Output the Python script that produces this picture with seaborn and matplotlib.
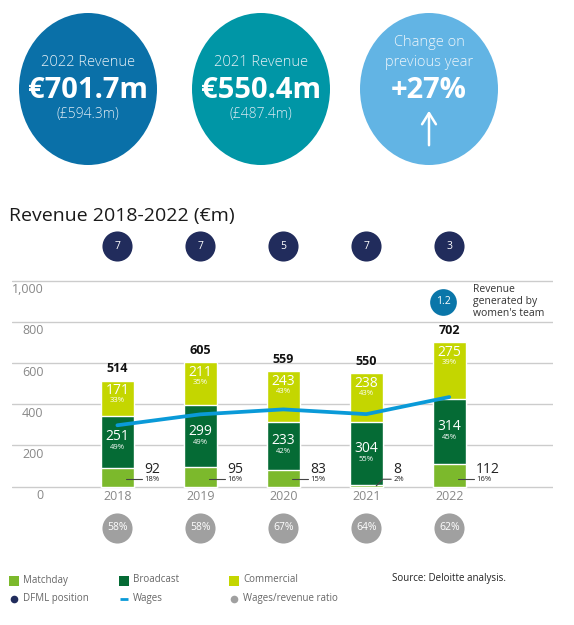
import numpy as np
import pandas as pd
import seaborn as sns
import matplotlib.pyplot as plt
from matplotlib.patches import Ellipse

sns.set_style("white")
plt.rcParams['font.family'] = ['Open Sans', 'DejaVu Sans']

# data
years = ['2018', '2019', '2020', '2021', '2022']
matchday = [92, 95, 83, 8, 112]
broadcast = [251, 299, 233, 304, 314]
commercial = [171, 211, 243, 238, 275]
matchday_pct = ['18%', '16%', '15%', '2%', '16%']
broadcast_pct = ['49%', '49%', '42%', '55%', '45%']
commercial_pct = ['33%', '35%', '43%', '43%', '39%']
totals = [514, 605, 559, 550, 702]
wages = [298, 351, 375, 352, 435]
dfml_position = [7, 7, 5, 7, 3]
wage_ratio = ['58%', '58%', '67%', '64%', '62%']
yticks = [0, 200, 400, 600, 800, 1000]
womens_revenue = 1.2

headline_titles = [['2022 Revenue'], ['2021 Revenue'], ['Change on', 'previous year']]
headline_values = ['€701.7m', '€550.4m', '+27%']
headline_subs = ['(£594.3m)', '(£487.4m)', None]

c_match = '#7cb92c'
c_broad = '#056b35'
c_comm = '#c4d600'
c_wages = '#0a9ad8'
c_navy = '#212c5c'
c_grey = '#a0a0a0'
c_women = '#0a76a9'

df = pd.DataFrame({'year': years, 'total': totals,
                   'md_bc': np.array(matchday) + np.array(broadcast),
                   'md': matchday})

fig = plt.figure(figsize=(5.74, 6.25), dpi=100)

# overlay for headline circles, title and legend (pixel coords)
bg = fig.add_axes([0, 0, 1, 1])
bg.set_xlim(0, 574)
bg.set_ylim(625, 0)
bg.axis('off')

circ_x = [88, 261, 429]
circ_col = ['#0a70a8', '#0096a6', '#62b4e4']
for i in range(3):
    bg.add_patch(Ellipse((circ_x[i], 89), 138, 152, color=circ_col[i], lw=0))
    t = headline_titles[i]
    if len(t) == 1:
        bg.text(circ_x[i], 62, t[0], ha='center', va='center', color='#e6f0f6', fontsize=10.5, fontweight='light')
    else:
        bg.text(circ_x[i], 42, t[0], ha='center', va='center', color='#eef6fb', fontsize=10.5, fontweight='light')
        bg.text(circ_x[i], 62, t[1], ha='center', va='center', color='#eef6fb', fontsize=10.5, fontweight='light')
    bg.text(circ_x[i], 90, headline_values[i], ha='center', va='center', color='white', fontsize=21, fontweight='bold')
    if headline_subs[i]:
        bg.text(circ_x[i], 115, headline_subs[i], ha='center', va='center', color='#dbe9f2', fontsize=10, fontweight='light')
bg.annotate('', xy=(429, 108), xytext=(429, 148),
            arrowprops=dict(arrowstyle='->,head_width=0.5,head_length=0.8', color='white', lw=1.8))

bg.text(9, 216, 'Revenue 2018-2022 (€m)', ha='left', va='center', fontsize=14, color='#1a1a1a')

# legend
leg = [(14, 580, 's', c_match, 'Matchday'), (124, 580, 's', c_broad, 'Broadcast'),
       (234, 580, 's', c_comm, 'Commercial'), (14, 598, 'o', c_navy, 'DFML position'),
       (124, 598, '_', c_wages, 'Wages'), (234, 598, 'o', c_grey, 'Wages/revenue ratio')]
for x, y, m, c, lab in leg:
    bg.plot([x], [y + 1], marker=m, color=c, markersize=6.5 if m == 's' else 5.5,
            mew=2 if m == '_' else 0, ls='none')
    bg.text(x + 9, y, lab, ha='left', va='center', fontsize=7, color='#666666')
bg.text(392, 579, 'Source: Deloitte analysis.', ha='left', va='center', fontsize=7, color='#222222')

# main chart
ax = fig.add_axes([12 / 574, 65 / 625, 541 / 574, 335 / 625])
sns.barplot(data=df, x='year', y='total', color=c_comm, width=0.4, saturation=1, errorbar=None, ax=ax, zorder=2)
sns.barplot(data=df, x='year', y='md_bc', color=c_broad, width=0.4, saturation=1, errorbar=None, ax=ax, zorder=2)
sns.barplot(data=df, x='year', y='md', color=c_match, width=0.4, saturation=1, errorbar=None, ax=ax, zorder=2)
sns.lineplot(x=np.arange(len(years)), y=wages, color=c_wages, lw=2.7, ax=ax, zorder=3)

ax.set_xlim(-1.27, 5.25)
ax.set_ylim(-356, 1270)
ax.set_yticks(yticks)
ax.yaxis.grid(True, color='#cccccc', lw=1)
ax.xaxis.grid(False)
ax.set_axisbelow(True)
ax.tick_params(length=0, labelleft=False, labelbottom=False)
ax.set_xlabel('')
ax.set_ylabel('')
for s in ax.spines.values():
    s.set_visible(False)

for v in yticks:
    ax.annotate(f'{v:,}', xy=(0.058, v), xycoords=('axes fraction', 'data'),
                xytext=(0, -9), textcoords='offset pixels', ha='right', va='center',
                fontsize=9, color='#888888')

for i in range(len(years)):
    ax.annotate(years[i], (i, 0), xytext=(0, -10), textcoords='offset pixels',
                ha='center', va='center', fontsize=9, color='#888888')
    # totals
    ax.annotate(str(totals[i]), (i, totals[i]), xytext=(0, 12), textcoords='offset pixels',
                ha='center', va='center', fontsize=9, fontweight='bold', color='#111111')
    # commercial
    ax.annotate(str(commercial[i]), (i, totals[i]), xytext=(0, -10), textcoords='offset pixels',
                ha='center', va='center', fontsize=10, color='white', zorder=4)
    ax.annotate(commercial_pct[i], (i, totals[i]), xytext=(0, -20), textcoords='offset pixels',
                ha='center', va='center', fontsize=5.5, color='white', zorder=4)
    # broadcast
    mid = matchday[i] + broadcast[i] / 2
    ax.annotate(str(broadcast[i]), (i, mid), xytext=(0, 5), textcoords='offset pixels',
                ha='center', va='center', fontsize=10, color='white', zorder=4)
    ax.annotate(broadcast_pct[i], (i, mid), xytext=(0, -6), textcoords='offset pixels',
                ha='center', va='center', fontsize=5.5, color='white', zorder=4)
    # matchday to the side
    ax.annotate(str(matchday[i]), (i, 0), xytext=(27, 17), textcoords='offset pixels',
                ha='left', va='center', fontsize=10, color='#222222')
    ax.annotate(matchday_pct[i], (i, 0), xytext=(27, 7), textcoords='offset pixels',
                ha='left', va='center', fontsize=5.5, color='#222222')
    if matchday[i] < 30:
        ax.plot([i + 0.12, i + 0.2, i + 0.3], [matchday[i] / 2, 36, 36], color='#444444', lw=0.8, zorder=4)
    else:
        ax.plot([i + 0.1, i + 0.3], [36, 36], color='#444444', lw=0.8, zorder=4)

# DFML position circles and wages/revenue ratio circles
ax.scatter(np.arange(len(years)), [1168] * len(years), s=470, color=c_navy, lw=0, zorder=3, clip_on=False)
ax.scatter(np.arange(len(years)), [-200] * len(years), s=470, color=c_grey, lw=0, zorder=3, clip_on=False)
for i in range(len(years)):
    ax.text(i, 1168, str(dfml_position[i]), ha='center', va='center', fontsize=7.5, color='white', zorder=4)
    ax.text(i, -200, wage_ratio[i], ha='center', va='center', fontsize=7.5, color='white', zorder=4)

# women's team revenue
ax.scatter([3.93], [898], s=370, color=c_women, lw=0, zorder=3)
ax.text(3.93, 898, str(womens_revenue), ha='center', va='center', fontsize=7.5, color='white', zorder=4)
ax.annotate("Revenue\ngenerated by\nwomen's team", (3.93, 898), xytext=(30, 0), textcoords='offset pixels',
            ha='left', va='center', fontsize=7.5, color='#333333', linespacing=1.15)

fig.savefig('out.png', dpi=100)
